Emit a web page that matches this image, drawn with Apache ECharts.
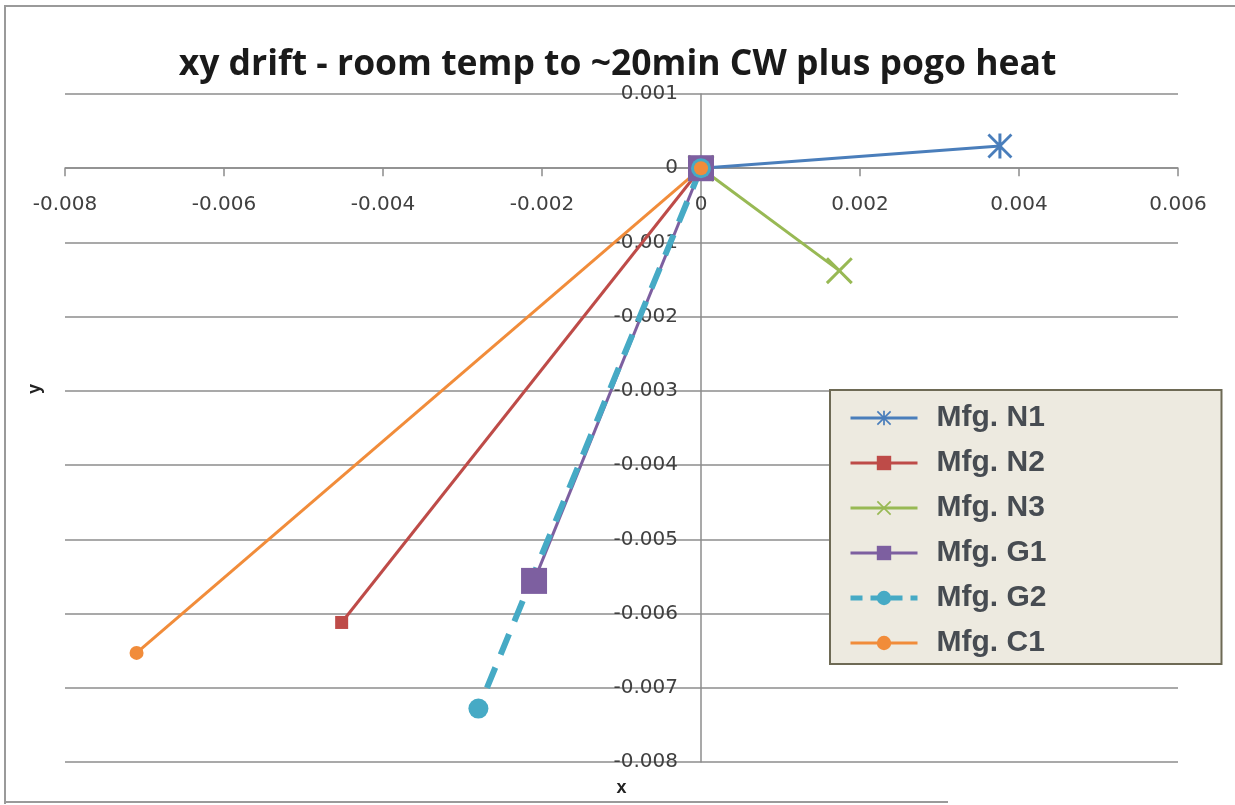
<!DOCTYPE html>
<html>
<head>
<meta charset="utf-8">
<script src="https://cdn.jsdelivr.net/npm/echarts@6/dist/echarts.min.js"></script>
<style>
  html, body { margin: 0; padding: 0; background: #fff; }
  #chart { width: 1235px; height: 805px; }
  .frame { position: absolute; left: 4px; top: 5px; width: 1240px; height: 797px;
    border-left: 2px solid #9a9a9a; border-top: 2px solid #9a9a9a; pointer-events: none; }
  .frame-bottom { position: absolute; left: 4px; top: 801px; width: 944px; height: 0;
    border-top: 2px solid #9a9a9a; pointer-events: none; }
</style>
</head>
<body>
<div id="chart"></div>
<div class="frame"></div>
<div class="frame-bottom"></div>
<script>
// series names in legend order
const seriesNames = ['Mfg. N1', 'Mfg. N2', 'Mfg. N3', 'Mfg. G1', 'Mfg. G2', 'Mfg. C1']
// each series starts at origin and drifts to end point
const startX = [0, 0, 0, 0, 0, 0]
const startY = [0, 0, 0, 0, 0, 0]
const endX = [0.00376, -0.00452, 0.00174, -0.0021, -0.0028, -0.0071]
const endY = [0.0003, -0.00612, -0.00138, -0.00556, -0.00728, -0.00653]

const xTicks = { min: -0.008, max: 0.006, interval: 0.002 }
const yTicks = { min: -0.008, max: 0.001, interval: 0.001 }

const colors = ['#4a7ebb', '#be4b48', '#98b954', '#7d5fa0', '#46aac5', '#f18c3a']

// 标记形状
const xMark = 'path://M8,0 L50,42 L92,0 L100,8 L58,50 L100,92 L92,100 L50,58 L8,100 L0,92 L42,50 L0,8 Z'
const starMark = xMark + ' M44,0 L56,0 L56,100 L44,100 Z'
const styles = [
  { symbol: starMark, size: 25, width: 3, type: 'solid' },
  { symbol: 'rect', size: 13, width: 3, type: 'solid' },
  { symbol: xMark, size: 27, width: 3, type: 'solid' },
  { symbol: 'rect', size: 26, width: 3, type: 'solid' },
  { symbol: 'circle', size: 20, width: 6, type: [22, 14] },
  { symbol: 'circle', size: 14, width: 3, type: 'solid' }
]

const fmt = v => (v === 0 ? '0' : v.toFixed(3))

// grid box
const gridLeft = 65, gridRight = 57, gridTop = 94, gridBottom = 43
const gridW = 1235 - gridLeft - gridRight
const gridH = 805 - gridTop - gridBottom
// 坐标轴放在零点处
const zeroX = gridW * (0 - xTicks.min) / (xTicks.max - xTicks.min)
const zeroY = gridH * (yTicks.max - 0) / (yTicks.max - yTicks.min)

const chart = echarts.init(document.getElementById('chart'))

const series = seriesNames.map((name, i) => ({
  name: name,
  type: 'line',
  data: [[startX[i], startY[i]], [endX[i], endY[i]]],
  symbol: styles[i].symbol,
  symbolSize: styles[i].size,
  showAllSymbol: true,
  color: colors[i],
  lineStyle: { color: colors[i], width: styles[i].width, type: styles[i].type },
  itemStyle: { color: colors[i] },
  animation: false
}))

const legendData = seriesNames.map((name, i) => ({
  name: name,
  lineStyle: { width: i === 4 ? 5 : 3, type: i === 4 ? [12, 8] : 'solid' }
}))

chart.setOption({
  title: {
    text: 'xy drift - room temp to ~20min CW plus pogo heat',
    left: 'center',
    top: 42,
    textStyle: { fontFamily: 'Open Sans', fontSize: 35.5, fontWeight: 'bold', color: '#1a1a1a' }
  },
  legend: {
    orient: 'vertical',
    left: 830,
    top: 390,
    padding: [13, 175, 6, 18],
    itemGap: 15,
    itemWidth: 67,
    itemHeight: 18,
    backgroundColor: '#edeae0',
    borderColor: '#6e6a55',
    borderWidth: 2,
    borderRadius: 0,
    data: legendData,
    textStyle: { fontFamily: 'Liberation Sans', fontSize: 30, fontWeight: 'bold', color: '#474c52', padding: [0, 0, 0, 14] }
  },
  grid: { left: gridLeft, right: gridRight, top: gridTop, bottom: gridBottom, containLabel: false, outerBoundsMode: 'none' },
  xAxis: {
    type: 'value',
    min: xTicks.min,
    max: xTicks.max,
    interval: xTicks.interval,
    position: 'bottom',
    offset: -(gridH - zeroY),
    name: 'x',
    nameLocation: 'middle',
    nameGap: 611,
    nameTextStyle: { fontFamily: 'Liberation Sans', fontWeight: 'bold', fontSize: 18, color: '#222' },
    axisLine: { onZero: false, lineStyle: { color: '#8c8c8c', width: 1.5 } },
    axisTick: { show: true, length: 8, inside: false, lineStyle: { color: '#8c8c8c', width: 1.5 } },
    axisLabel: { fontFamily: 'DejaVu Sans', fontSize: 20, color: '#404040', margin: 27, formatter: fmt },
    splitLine: { show: false }
  },
  yAxis: {
    type: 'value',
    min: yTicks.min,
    max: yTicks.max,
    interval: yTicks.interval,
    position: 'left',
    offset: -zeroX,
    axisLine: { onZero: false, lineStyle: { color: '#8c8c8c', width: 1.5 } },
    axisTick: { show: false },
    axisLabel: { fontFamily: 'DejaVu Sans', fontSize: 20, color: '#404040', margin: 23, formatter: fmt },
    splitLine: { show: true, lineStyle: { color: '#8c8c8c', width: 1.5 } }
  },
  // y 轴标题放在最左侧
  graphic: [{
    type: 'text',
    left: 26,
    top: 384,
    rotation: Math.PI / 2,
    style: { text: 'y', font: 'bold 18px "Liberation Sans"', fill: '#222' }
  }],
  series: series
})
</script>
</body>
</html>
